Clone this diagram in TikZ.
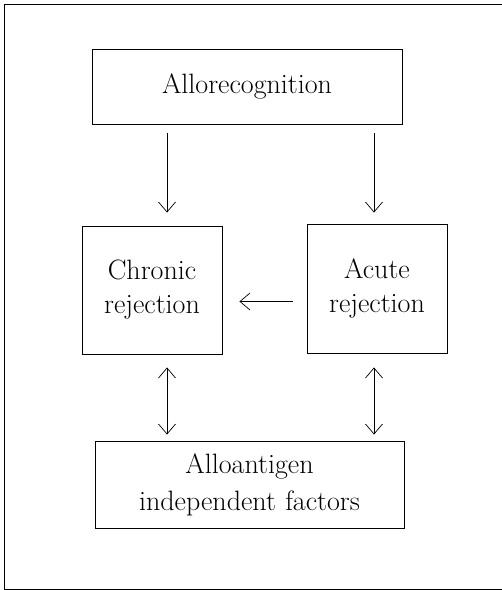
\documentclass[tikz,border=0pt]{standalone}
\usepackage{tikz}
\usetikzlibrary{arrows.meta}
\tikzstyle{block} = [rectangle, draw, line width=0.9pt, text centered, inner sep=0pt,
    font=\fontsize{28}{34}\selectfont]
\tikzstyle{line} = [draw, line width=0.7pt, -{Straight Barb[length=10pt,width=17pt]}]
\tikzstyle{dline} = [draw, line width=0.7pt, {Straight Barb[length=10pt,width=17pt]}-{Straight Barb[length=10pt,width=17pt]}]

\begin{document}
\begin{tikzpicture}[x=1pt, y=-1pt]
    \useasboundingbox (0,0) rectangle (502,590);
    % outer frame, open on the right
    \draw [line width=0.9pt] (502,4) -- (4,4) -- (4,589) -- (502,589);

    % Place nodes
    \node [block, minimum width=310pt, minimum height=75pt] (allo) at (247,86.5) {Allorecognition};
    \node [block, minimum width=140pt, minimum height=128pt, text width=138pt] (chronic) at (152,290) {Chronic\\ rejection};
    \node [block, minimum width=140pt, minimum height=129pt, text width=138pt] (acute) at (377,288.5) {Acute\\ rejection};
    \node [block, minimum width=309pt, minimum height=87pt, text width=300pt,
        font=\fontsize{28}{37}\selectfont] (indep) at (249.5,484.5) {Alloantigen\\ independent factors};

    % Draw edges
    \path [line, shorten <=9pt, shorten >=13pt] ([xshift=15pt]chronic.north |- allo.south) -- ([xshift=15pt]chronic.north);
    \path [line, shorten <=9pt, shorten >=11pt] ([xshift=-3pt]acute.north |- allo.south) -- ([xshift=-3pt]acute.north);
    \path [line, shorten <=14pt, shorten >=17pt] ([yshift=-13pt]acute.west) -- ([yshift=-13pt]acute.west -| chronic.east);
    \path [dline, shorten <=13pt, shorten >=6pt] ([xshift=15pt]chronic.south) -- ([xshift=15pt]chronic.south |- indep.north);
    \path [dline, shorten <=14pt, shorten >=6pt] ([xshift=-3pt]acute.south) -- ([xshift=-3pt]acute.south |- indep.north);
\end{tikzpicture}
\end{document}
